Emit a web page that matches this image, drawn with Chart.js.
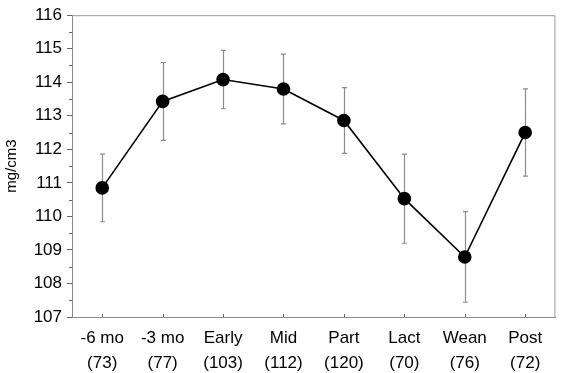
<!DOCTYPE html>
<html>
<head>
<meta charset="utf-8">
<script src="https://cdn.jsdelivr.net/npm/chart.js@4.4.1/dist/chart.umd.min.js"></script>
<style>
  html, body { margin: 0; padding: 0; background: #fff; }
  #wrap { width: 563px; height: 373px; }
</style>
</head>
<body>
<div id="wrap"><canvas id="grafico"></canvas></div>
<script>
// datos
const etapas = ['-6 mo', '-3 mo', 'Early', 'Mid', 'Part', 'Lact', 'Wean', 'Post'];
const muestras = ['(73)', '(77)', '(103)', '(112)', '(120)', '(70)', '(76)', '(72)'];
const medias = [110.85, 113.43, 114.08, 113.80, 112.86, 110.53, 108.79, 112.50];
const errores = [1.01, 1.16, 0.87, 1.04, 0.98, 1.33, 1.35, 1.30];
const yMin = 107;
const yMax = 116;

const fuente = "'Liberation Sans', Arial, sans-serif";

// barras de error, marco y ticks menores
const extras = {
    id: 'extras',
    beforeDatasetsDraw(chart) {
        const ctx = chart.ctx;
        const xs = chart.scales.x;
        const ys = chart.scales.y;
        const area = chart.chartArea;
        ctx.save();

        // marco de arriba y derecha
        ctx.strokeStyle = '#9a9a9a';
        ctx.lineWidth = 1;
        ctx.beginPath();
        ctx.moveTo(area.left, area.top + 0.5);
        ctx.lineTo(area.right - 0.5, area.top + 0.5);
        ctx.lineTo(area.right - 0.5, area.bottom);
        ctx.stroke();

        // ticks menores en el eje y
        ctx.strokeStyle = '#666';
        ctx.beginPath();
        for (let v = yMin + 0.5; v < yMax; v += 1) {
            const y = Math.round(ys.getPixelForValue(v)) + 0.5;
            ctx.moveTo(area.left - 3, y);
            ctx.lineTo(area.left, y);
        }
        ctx.stroke();

        // ticks en el eje x
        ctx.beginPath();
        etapas.forEach((e, i) => {
            const x = Math.round(xs.getPixelForValue(i)) + 0.5;
            ctx.moveTo(x, area.bottom);
            ctx.lineTo(x, area.bottom - 3);
        });
        ctx.stroke();

        // barras de error
        ctx.strokeStyle = '#8c8c8c';
        ctx.lineWidth = 1.2;
        ctx.beginPath();
        medias.forEach((m, i) => {
            const x = Math.round(xs.getPixelForValue(i)) + 0.5;
            const yTop = ys.getPixelForValue(m + errores[i]);
            const yBot = ys.getPixelForValue(m - errores[i]);
            ctx.moveTo(x, yTop);
            ctx.lineTo(x, yBot);
            ctx.moveTo(x - 2.5, yTop);
            ctx.lineTo(x + 2.5, yTop);
            ctx.moveTo(x - 2.5, yBot);
            ctx.lineTo(x + 2.5, yBot);
        });
        ctx.stroke();
        ctx.restore();
    }
};

const ctxGrafico = document.getElementById('grafico');

let grafico = new Chart(ctxGrafico, {
    type: 'line',
    data: {
        labels: etapas.map((e, i) => [e, muestras[i]]),
        datasets: [{
            label: 'mg/cm3',
            data: medias,
            borderColor: '#000',
            borderWidth: 1.6,
            pointRadius: 6,
            pointBackgroundColor: '#000',
            pointBorderColor: '#000',
            tension: 0,
            fill: false
        }]
    },
    options: {
        responsive: true,
        maintainAspectRatio: false,
        animation: false,
        layout: { padding: { top: 4, right: 1, left: 0, bottom: 0 } },
        plugins: {
            legend: { display: false },
            tooltip: { enabled: false }
        },
        scales: {
            x: {
                offset: true,
                grid: { display: false },
                border: { display: true, color: '#8a8a8a', width: 1 },
                ticks: {
                    color: '#000',
                    font: { family: fuente, size: 17, lineHeight: 1.45 },
                    padding: 1,
                    maxRotation: 0,
                    autoSkip: false
                },
                afterFit(scale) { scale.height = 56; }
            },
            y: {
                min: yMin,
                max: yMax,
                grid: { drawOnChartArea: false, drawTicks: true, tickLength: 5, color: '#666' },
                border: { display: true, color: '#8a8a8a', width: 1 },
                ticks: {
                    stepSize: 1,
                    color: '#000',
                    font: { family: fuente, size: 17 },
                    padding: 5
                },
                title: {
                    display: true,
                    text: 'mg/cm3',
                    color: '#000',
                    font: { family: fuente, size: 15 },
                    padding: { top: 3, bottom: 0 }
                },
                afterFit(scale) { scale.width = 72; }
            }
        }
    },
    plugins: [extras]
});
</script>
</body>
</html>
